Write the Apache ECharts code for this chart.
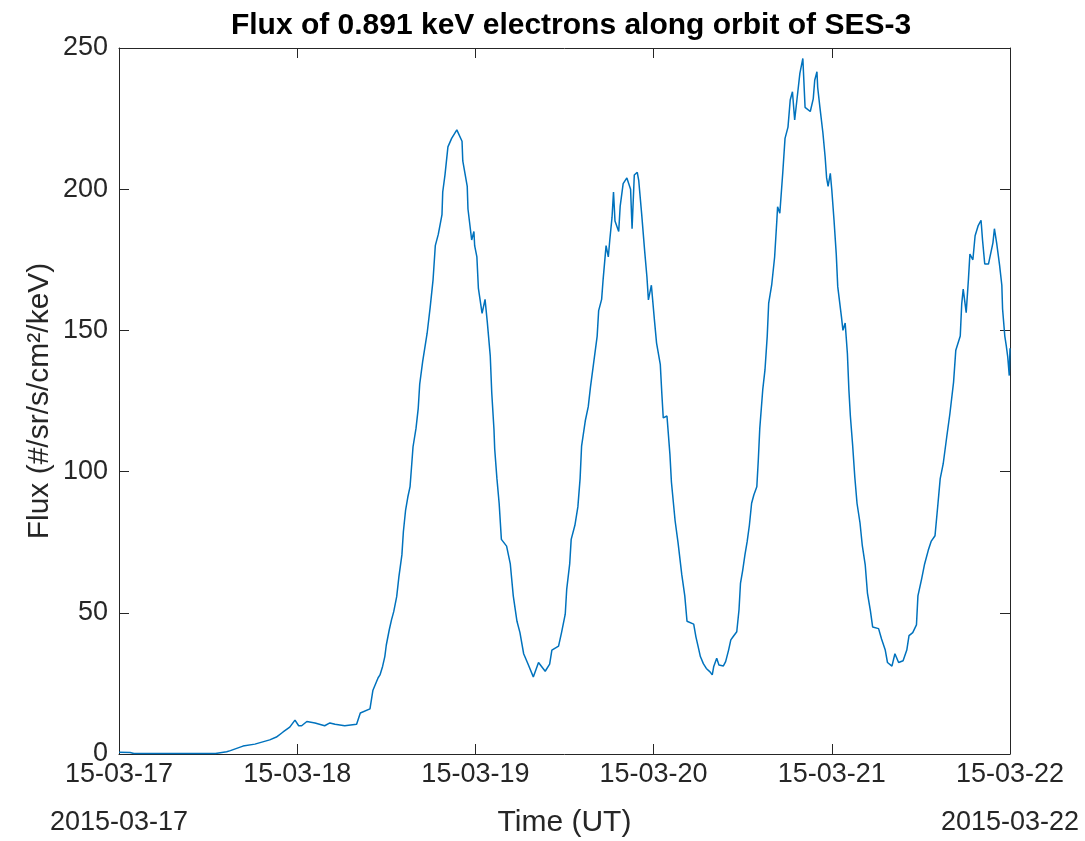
<!DOCTYPE html>
<html>
<head>
<meta charset="utf-8">
<script src="https://cdn.jsdelivr.net/npm/echarts@6/dist/echarts.min.js"></script>
<style>
  html, body { margin: 0; padding: 0; background: #fff; }
  #chart { width: 1085px; height: 841px; }
</style>
</head>
<body>
<div id="chart"></div>
<script>
// hours after 2015-03-17 00:00 UT
var hours = [
  0, 1.5, 2, 13, 13.2, 14.5, 15, 16.7, 18.3, 20.3, 21.2, 22.1, 23, 23.7, 24.2, 24.6,
  25.3, 26.4, 27.7, 28.4, 29.1, 30.4, 32, 32.5, 33.8, 34.2, 34.9, 35.15, 35.5, 35.8,
  36.0, 36.4, 36.7, 37.0, 37.4, 37.7, 38.1, 38.3, 38.6, 38.9, 39.2, 39.4, 39.6, 40.0,
  40.3, 40.5, 40.9, 41.5, 41.9, 42.3, 42.6, 43.0, 43.5, 43.6, 43.9, 44.3, 44.8, 45.5,
  46.2, 46.3, 46.9, 47.0, 47.5, 47.8, 47.9, 48.2, 48.4, 48.9, 49.3, 49.6, 50.0, 50.2,
  50.5, 50.6, 50.9, 51.2, 51.5, 52.2, 52.7, 53.1, 53.6, 54.0, 54.5, 55.1, 55.8, 56.5,
  57.4, 58.0, 58.3, 59.2, 59.6, 60.1, 60.3, 60.7, 60.9, 61.4, 61.8, 62.1, 62.3, 62.8,
  63.2, 63.5, 63.9, 64.4, 64.6, 65.0, 65.2, 65.6, 65.9, 66.1, 66.4, 66.6, 66.8, 67.3,
  67.5, 67.9, 68.4, 68.9, 69.1, 69.4, 69.8, 70.0, 70.4, 70.8, 71.1, 71.3, 71.7, 72.1,
  72.4, 72.9, 73.1, 73.3, 73.8, 74.2, 74.4, 74.9, 75.3, 75.8, 76.2, 76.5, 77.4, 77.7,
  78.0, 78.3, 78.7, 79.1, 79.6, 79.9, 80.1, 80.5, 80.8, 81.4, 81.7, 82.1, 82.4, 82.7,
  83.2, 83.5, 83.7, 84.0, 84.3, 84.6, 84.9, 85.2, 85.5, 85.9, 86.1, 86.3, 86.7, 87.0,
  87.3, 87.5, 87.9, 88.3, 88.6, 88.7, 89.0, 89.4, 89.7, 90.1, 90.4, 90.7, 91.0, 91.3,
  91.7, 92.1, 92.4, 93.1, 93.5, 93.7, 94.0, 94.1, 94.4, 94.8, 95.1, 95.3, 95.5, 95.8,
  96.0, 96.3, 96.6, 96.8, 97.3, 97.5, 97.8, 98.1, 98.3, 98.5, 98.8, 99.1, 99.4, 99.8,
  100.1, 100.5, 100.8, 101.2, 101.5, 102.3, 102.7, 103.2, 103.5, 104.1, 104.5, 105.0,
  105.6, 106.1, 106.4, 106.9, 107.4, 107.6, 108.1, 108.5, 109.0, 109.4, 109.9, 110.3,
  110.6, 111.0, 111.5, 111.9, 112.4, 112.7, 113.3, 113.5, 113.7, 114.1, 114.4, 114.6,
  115.0, 115.3, 115.7, 116.1, 116.3, 116.6, 117.1, 117.7, 117.9, 118.2, 118.6, 118.9,
  119.0, 119.3, 119.5, 119.7, 119.9, 120.0
];
var flux = [
  0.6, 0.5, 0.2, 0.2, 0.6, 0.8, 1.2, 2.8, 3.5, 5, 6, 7.8, 9.5, 12, 10, 10,
  11.5, 11, 10, 11, 10.5, 10, 10.5, 14.5, 16, 22.6, 27, 28, 31, 34.5,
  38.6, 44, 47.5, 50.4, 55.7, 62.8, 70.5, 78.7, 86.4, 91, 94.7, 101.7, 108.8, 115.3,
  122.4, 131, 139, 149, 158, 168, 180, 184, 191, 199, 205, 215, 218, 221,
  217, 210, 201, 193, 182, 185, 180, 176, 165, 156, 161, 153, 141, 128,
  115, 108, 97.5, 88.7, 76, 73.6, 67.3, 56, 47, 43, 35.5, 31.8, 27.3, 32.4,
  29.3, 31.8, 36.8, 38.2, 43, 49.5, 58.4, 67.3, 76, 81, 87.5, 97.5, 109, 118,
  123, 130, 138, 148, 157, 161, 168, 180, 176, 182, 190, 199, 188.7, 185,
  194, 202, 204, 200, 186, 205, 206, 203, 191, 178, 169, 160.8, 166, 154,
  145.5, 138, 128, 119, 119.7, 106, 96.3, 82.5, 74.7, 63.4, 56, 47, 46, 41.5,
  38, 34.5, 32, 30.3, 29.1, 28, 31, 33.9, 31.5, 31.2, 32.7, 36.8, 40.4, 41.5,
  43.3, 51, 60.4, 65, 70.5, 75.2, 81, 88.8, 91.7, 94.6, 104, 115.3, 129, 136,
  147.8, 159.7, 166, 176, 189, 193.8, 191.5, 206, 218, 222, 231.6, 234.5, 224.5, 231.6,
  241, 246.3, 229, 227.5, 232, 238.6, 241.6, 236, 229, 220, 211.5, 204, 201, 205.6,
  199.7, 189, 177, 165.5, 154.8, 150, 152.6, 141.8, 129, 119.7, 109.6, 98, 88.7, 81.8,
  74, 67, 57, 50.7, 45, 44.4, 40.7, 36.8, 32.4, 31.1, 35.5, 32.4,
  33, 36.8, 41.9, 43, 45.7, 56, 62, 67.3, 72.2, 75.4, 77.3, 88.7,
  97.5, 102.7, 112.7, 120.4, 131.7, 143, 148, 159.5, 164.6, 156.3, 168, 177,
  175, 183.5, 187, 189, 182, 173.5, 173.5, 181, 186, 181, 173, 166,
  157.6, 148, 144.5, 140.5, 134, 143.7
];
var dayLabels = ['15-03-17', '15-03-18', '15-03-19', '15-03-20', '15-03-21', '15-03-22'];
var firstDate = '2015-03-17';
var lastDate = '2015-03-22';

var ink = '#262626';
var font = '"Liberation Sans", Arial, Helvetica, sans-serif';

var points = hours.map(function (h, i) { return [h, flux[i]]; });

var boxX = {
  type: 'value', min: 0, max: 120, interval: 24,
  axisLine: { show: true, onZero: false, lineStyle: { color: ink, width: 1 } },
  axisTick: { show: true, inside: true, length: 10, lineStyle: { color: ink } },
  splitLine: { show: false }
};
var boxY = {
  type: 'value', min: 0, max: 250, interval: 50,
  axisLine: { show: true, onZero: false, lineStyle: { color: ink, width: 1 } },
  axisTick: { show: true, inside: true, length: 10, lineStyle: { color: ink } },
  splitLine: { show: false }
};

var option = {
  animation: false,
  backgroundColor: '#fff',
  title: {
    text: 'Flux of 0.891 keV electrons along orbit of SES-3',
    left: 566, top: 6, textAlign: 'center',
    textStyle: { fontFamily: font, fontSize: 30, fontWeight: 'bold', color: '#000' }
  },
  grid: { left: 119, right: 75, top: 48, bottom: 87, outerBoundsMode: 'none', containLabel: false },
  xAxis: [
    Object.assign({}, boxX, {
      position: 'bottom',
      name: 'Time (UT)', nameLocation: 'middle', nameGap: 54, nameMoveOverlap: false,
      nameTextStyle: { fontFamily: font, fontSize: 30, color: ink },
      axisLabel: {
        margin: 9, fontFamily: font, fontSize: 27, color: ink, lineHeight: 24,
        showMinLabel: true, showMaxLabel: true,
        formatter: function (v) {
          var i = Math.round(v / 24);
          if (i === 0) return dayLabels[i] + '\n\n' + firstDate;
          if (i === dayLabels.length - 1) return dayLabels[i] + '\n\n' + lastDate;
          return dayLabels[i];
        }
      }
    }),
    Object.assign({}, boxX, { position: 'top', axisLabel: { show: false } })
  ],
  yAxis: [
    Object.assign({}, boxY, {
      position: 'left',
      name: 'Flux (#/sr/s/cm²/keV)', nameLocation: 'middle', nameGap: 64, nameMoveOverlap: false,
      nameTextStyle: { fontFamily: font, fontSize: 30, color: ink },
      axisLabel: { margin: 11, fontFamily: font, fontSize: 27, color: ink }
    }),
    Object.assign({}, boxY, { position: 'right', axisLabel: { show: false } })
  ],
  series: [{
    type: 'line',
    data: points,
    showSymbol: false,
    symbol: 'none',
    lineStyle: { color: '#0072BD', width: 1.5 },
    clip: true
  }]
};

var chart = echarts.init(document.getElementById('chart'));
chart.setOption(option);
window.addEventListener('resize', function () { chart.resize(); });
</script>
</body>
</html>
